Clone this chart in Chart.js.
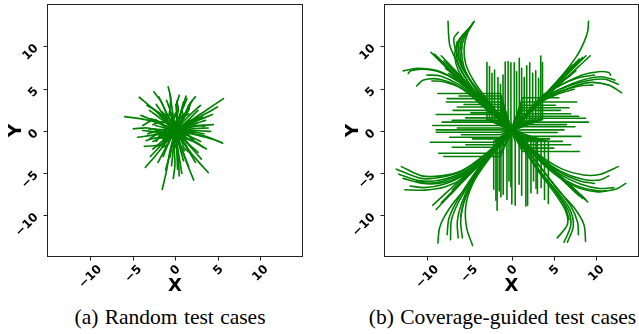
<!DOCTYPE html>
<html><head><meta charset="utf-8">
<script src="https://cdn.jsdelivr.net/npm/chart.js@4"></script>
<style>
html,body{margin:0;padding:0;background:#fff;width:639px;height:334px;overflow:hidden;position:relative}
.cv{position:absolute;top:0;height:300px}
.cap{position:absolute;top:305.5px;font-family:"Liberation Serif","Times New Roman",serif;font-size:21.5px;line-height:22px;white-space:nowrap;color:#000;transform:translateX(-50%);word-spacing:1px}
</style></head><body>
<div class="cv" style="left:0;width:310px"><canvas id="c1"></canvas></div>
<div class="cv" style="left:320px;width:319px"><canvas id="c2"></canvas></div>
<div class="cap" style="left:170px">(a) Random test cases</div>
<div class="cap" style="left:502.5px">(b) Coverage-guided test cases</div>
<script>
// ---- axis data ----
const tickValues = [-10, -5, 0, 5, 10];
const tickLabels = ['\u221210', '\u22125', '0', '5', '10'];
const axisMin = -15, axisMax = 15;
const xTitle = 'X', yTitle = 'Y';

// ---- panel (a): random test cases, flat [x0,y0,x1,y1,...] paths ----
const leftW = [
 [0,0,-1.2,0.6,-3,1.2,-5.9,1.66],[0,0,-1.5,-0.1,-3.2,0.3,-4.9,0.2],[0,0,-1.1,1.2,-2.6,2.6,-4.2,3.96],
 [0.2,0.1,-1.2,0.5,-2.4,1.3,-3.8,0.6],[0,-0.2,-1.4,-0.4,-2.2,-0.1,-3.2,-0.4],[0,0,-1.0,0.9,-2.0,1.1,-2.8,1.4],
 [0,0,-1.3,-0.8,-2.4,-0.9,-3.4,-1.2],[0,0,-1.5,-1.6,-3.6,-1.9],[0,0,-0.9,-0.3,-2.0,-1.0,-2.6,-1.3],
 [0,0.1,-1.4,0.1,-3.1,0.2],[0,0,-1.2,0.3,-2.3,0.6],[0,0,-1.4,1.2,-3.0,2.4],[0,0,-2.2,-0.5,-4.4,-0.8],
 [0,0,-1.8,0.9,-4.0,1.8],[0,0,-1.3,-0.3,-2.5,-0.5],[0,0,-1.6,1.9,-3.3,3.0],[0,0,-1.2,-0.6,-2.0,-0.4,-3.0,-1.0],
 [0,0,-1.6,-0.2,-3.8,0.0]
];
const leftN = [
 [0,0,-1.0,2.0,-1.6,3.4,-2.5,4.6],[0,0,-0.6,2.4,-0.5,3.8,-0.8,5.2],[0,0,0.3,2.0,0.2,3.1,0.5,4.2],
 [0,0,0.6,1.9,1.0,2.8,1.4,3.8],[0,0,1.1,1.6,1.6,3.0,2.4,4.0],[0,0,-1.3,1.8,-2.2,3.1],[0,0,-1.0,1.1,-1.8,1.8],
 [0,0,-0.4,1.9,-1.0,3.6],[0,0,-0.3,2.3,-0.6,4.3],[0,0,0.2,1.6,0.1,3.1],[0,0,0.6,1.8,1.0,3.4],
 [0,0,0.9,1.3,1.7,2.6],[0,0,1.1,1.9,2.0,3.5],[0,0,-1.2,1.3],[0,0,0.4,1.0,0.6,1.8],[0,0,0.7,2.2,1.3,4.1],
 [0,0,-1.0,2.1,-1.9,4.0],[0,0,1.6,1.7,3.0,3.0],[0,0,-0.2,1.2,0.4,2.4,0.2,3.5],[0,0,0.5,1.5,1.4,2.2,1.8,3.1]
];
const leftE = [
 [0,0,1.6,1.0,3.5,2.3,5.7,3.8],[0,0,1.4,0.9,3.2,1.8,5.0,2.8],[0,0,1.4,0.3,3.0,0.6,4.5,0.7],
 [0,0,1.6,-0.3,3.6,-0.7,5.6,-1.5],[0,0,1.2,0.9,2.7,2.4],[0,0,1.5,0.9,3.3,1.6],[0,0,1.9,0.7,3.6,1.2],
 [0,0,2.0,0.2,3.9,0.3],[0,0,1.7,-0.1,3.4,-0.4],[0,0,2.1,0.0,4.2,-0.1],[0,0,1.5,-0.6,3.0,-1.3],
 [0,0,1.3,-0.4,2.2,-1.1],[0,0,1.0,0.7,1.9,1.2],[0,0,2.2,1.0,4.4,1.9],[0,0,2.0,-0.4,4.3,-1.0],
 [0,0,1.3,0.5,2.6,0.9],[0,0,1.2,0.2,2.4,0.6,3.5,0.5],[0,0,1.1,-0.9,2.5,-1.4,3.3,-2.0]
];
const leftS = [
 [0,0,1.1,-1.6,2.3,-3.2,3.9,-5.0],[0,0,0.7,-1.9,1.4,-3.9,2.2,-5.9],[0,0,0.2,-1.8,0.4,-3.7,0.5,-5.4],
 [0,0,-0.1,-2.1,0.0,-4.0,-0.2,-5.7],[0,0,-0.6,-2.5,-1.0,-4.8,-1.5,-7.0],[0,0,-1.1,-1.5,-2.3,-3.0,-3.5,-4.4],
 [0,0,1.8,-1.1,3.7,-2.2],[0,0,1.4,-1.4,2.7,-2.6],[0,0,1.3,-1.9,2.4,-3.8],[0,0,0.8,-2.2,1.6,-4.3],
 [0,0,0.5,-1.8,1.0,-3.6],[0,0,0.4,-2.6,0.8,-5.1],[0,0,-0.2,-2.1,-0.4,-4.2],[0,0,-0.3,-1.6,-0.6,-3.2],
 [0,0,-0.5,-2.4,-1.1,-4.7],[0,0,-0.8,-1.6,-1.4,-3.1],[0,0,-1.0,-1.9,-2.0,-3.8],[0,0,-0.8,-0.9,-1.6,-1.8],
 [0,0,0.7,-1.0,1.4,-1.9],[0,0,-0.1,-1.0,-0.3,-1.9],[0,0,-1.5,-1.6,-2.9,-3.1],[0,0,1.6,-1.7,3.1,-3.4],
 [0,0,0.2,-2.3,0.3,-4.6],[0,0,-1.3,-1.1,-2.6,-2.2]
];
const leftCore = [
 [0,0,0.6,0.5,1.2,0.2,1.8,0.8],[0,0,-0.5,0.7,-1.1,0.4,-1.6,1.0],[0,0,-0.7,-0.4,-1.2,-1.0,-1.9,-0.7],
 [0,0,0.4,-0.6,1.0,-0.9,1.5,-1.5],[0,0,0.2,0.8,-0.3,1.4,0.1,2.1],[0,0,-0.3,-0.8,0.2,-1.4,-0.1,-2.2],
 [0,0,0.9,0.1,1.5,-0.3,2.3,-0.2],[0,0,-0.9,0.1,-1.6,-0.2,-2.4,0.2],[0,0,0.7,0.9,1.0,1.6,1.6,2.0],
 [0,0,-0.6,-0.9,-0.8,-1.6,-1.4,-2.0],[0,0,0.5,-1.0,0.6,-1.8,1.1,-2.4],[0,0,-0.8,0.9,-1.0,1.7,-1.5,2.2],
 [0,0,1.1,0.4,1.7,1.0,2.5,1.2],[0,0,-1.0,-0.3,-1.8,-0.6,-2.2,-1.3],[0,0,0.3,0.3,0.9,0.2,1.2,0.7],
 [0,0,-0.4,0.2,-0.8,-0.3,-1.3,-0.1],[0,0,1.0,-0.6,1.6,-0.5,2.0,-1.2],[0,0,-0.2,1.0,-0.7,1.5,-0.6,2.5],
 [0,0,0.8,-1.3,1.0,-2.0,1.7,-2.6],[0,0,-1.1,-0.9,-1.4,-1.6,-2.2,-1.9],[0,0,0.3,1.2,0.9,1.6,0.8,2.6],
 [0,0,-1.2,0.5,-2.0,0.9,-2.6,0.7],[0,0,0.5,0.2,1.0,-0.4,1.4,0.1],[0,0,-0.3,0.5,-0.9,0.8,-1.0,1.4],
 [0,0,-0.6,-0.2,-1.0,0.3,-1.5,-0.3],[0,0,0.2,-0.5,0.7,-0.6,0.9,-1.2]
];

// ---- panel (b): coverage-guided test cases ----
// horizontal runs: [y, xEnd]
const rightHorizL = [[4.4,-8.7],[4.1,-6.2],[3.8,-7.6],[3.4,-7.7],[3.1,-5.6],[2.8,-6.4],[2.4,-6.9],[2.1,-4.8],
 [1.9,-8.9],[1.5,-5.4],[1.2,-7.0],[1.0,-8.2],[0.6,-9.3],[0.3,-6.4],[0.07,-8.9],[-0.2,-8.9],[-0.5,-5.9],
 [-0.8,-7.3],[-1.0,-4.6],[-1.4,-9.6],[-1.7,-5.4],[-2.0,-7.0],[-2.7,-8.6],[-3.1,-8.0]];
const rightHorizR = [[3.9,5.6],[3.4,7.7],[3.0,5.2],[2.7,6.8],[2.4,5.8],[2.0,7.0],[1.7,7.95],[1.45,8.75],
 [1.0,9.1],[0.7,6.5],[0.44,7.5],[0.07,6.2],[-0.24,5.4],[-0.7,8.2],[-1.0,4.5],[-1.3,6.0],[-1.7,7.0],
 [-2.1,5.0],[-2.5,8.0]];
// vertical runs: [x, yEnd]
const rightVertUp = [[-2.9,8.1],[-2.6,7.6],[-2.3,6.8],[-2.0,7.2],[-1.6,6.3],[-1.3,5.5],[-1.0,6.6],[-0.74,8.15],
 [-0.4,8.2],[-0.07,8.07],[0.33,8.07],[0.6,7.0],[0.92,8.6],[1.2,7.4],[1.5,6.3],[1.8,7.7],[2.15,8.07],
 [2.5,6.8],[2.86,7.1],[3.2,6.2],[3.46,8.86],[3.66,8.1]];
const rightVertDown = [[-2.1,-7.0],[-1.84,-8.3],[-1.7,-9.5],[-1.45,-7.2],[-1.25,-7.9],[-0.98,-7.6],[-0.54,-8.2],
 [-0.3,-6.0],[-0.07,-6.7],[0.04,-8.75],[0.44,-8.9],[0.9,-6.4],[1.2,-7.7],[1.7,-9.0],[1.9,-8.9],[2.3,-7.4],
 [2.6,-6.0],[2.9,-6.9],[3.06,-7.5],[3.5,-6.8],[3.9,-8.2],[4.35,-8.7]];
// fan paths: flat [x0,y0,x1,y1,...]
const rightNW = [
 [0,0,-3.6,3.5,-5.2,5.9,-6.5,8.3,-7.3,10.2,-7.5,13.0],[0,0,-3.4,3.8,-5.6,7.2,-6.6,9.6,-6.8,11.0,-6.3,11.7],
 [0,0,-3.2,3.5,-4.6,5.5,-5.6,7.5,-5.9,9.5,-5.6,11.0,-4.4,13.0],[0,0,-3.1,3.6,-4.7,5.7,-5.8,7.6,-6.1,9.4,-5.8,11.0,-4.6,12.7],
 [0,0,-3.0,3.6,-4.8,5.9,-6.0,7.8,-6.3,9.5,-6.0,11.0,-4.8,12.4],[0,0,-3.3,3.4,-5.0,5.6,-6.2,7.6,-6.5,9.4,-6.2,10.8,-5.1,12.0],
 [0,0,-3.4,3.3,-5.2,5.5,-6.3,7.2,-6.7,9.0,-6.4,10.6],[0,0,-2.9,3.7,-4.4,5.8,-5.4,7.9,-5.6,9.8,-5.2,11.6,-4.5,12.9],
 [0,0,-4.6,4.4,-9.5,9.3],[0,0,-4.5,4.4,-9.1,9.1],[0,0,-4.4,4.2,-8.7,8.7],[0,0,-4.0,4.3,-8.3,8.9],
 [0,0,-4.0,4.0,-8.0,8.3],[0,0,-3.8,3.9,-7.7,8.1],[0,0,-3.6,3.6,-7.2,7.5],[0,0,-3.4,3.5,-6.8,7.3],
 [0,0,-3.9,3.6,-6.0,6.0,-7.8,7.4],[0,0,-3.7,3.5,-5.8,5.6,-7.4,6.8],
 [0,0,-4.0,3.9,-6.4,5.9,-8.7,7.1,-11.1,7.4,-12.8,7.1],[0,0,-3.8,3.7,-6.2,5.8,-8.6,7.0,-10.6,7.3,-11.9,7.1,-12.2,6.8],
 [0,0,-3.4,2.9,-6.0,5.1,-8.5,6.1,-10.4,6.0,-11.2,5.3],[0,0,-3.6,3.4,-6.1,5.4,-8.4,6.5,-10.0,6.6],
 [0,0,-3.7,3.3,-5.9,5.0,-8.0,5.8,-9.4,5.9]
];
const rightNE = [
 [0,0,3.0,3.2,5.6,6.1,7.6,8.7,8.55,10.5,9.0,11.8,9.1,13.0],[0,0,4.6,4.5,9.3,8.9],[0,0,4.4,4.5,8.8,8.9],
 [0,0,4.2,4.3,8.4,8.7],[0,0,4.0,4.2,8.0,8.5],[0,0,3.8,4.0,7.6,8.1],[0,0,3.6,3.8,7.2,7.8],[0,0,3.4,3.7,6.8,7.4],
 [0,0,3.7,3.6,5.8,5.7,7.6,7.1],[0,0,3.5,3.5,5.6,5.5,7.0,6.6],
 [0,0,3.6,4.1,5.6,5.3,8.35,6.6,10.3,7.0,11.5,6.9,11.7,6.6],[0,0,3.6,3.8,6.0,5.0,8.8,5.9,11.0,6.1,12.6,5.5],
 [0,0,3.4,3.4,6.2,4.8,9.1,5.7,11.5,5.4,13.0,4.5],[0,0,3.5,3.6,5.9,5.0,8.4,6.0,10.6,6.4,12.2,6.0],
 [0,0,3.3,3.4,5.6,4.6,8.0,5.3,9.6,5.4],[0,0,3.5,3.9,5.8,5.4,8.0,6.3,9.8,6.6],[0,0,3.2,3.2,5.4,4.3,7.4,4.9]
];
const rightSW = [
 [0,0,-3.2,-2.9,-6.0,-4.9,-8.5,-5.6,-10.7,-5.7,-13.6,-4.6],[0,0,-3.2,-3.0,-5.9,-4.8,-8.3,-5.4,-10.6,-5.4,-13.0,-4.3],
 [0,0,-3.1,-3.1,-5.8,-5.0,-8.4,-5.9,-10.8,-6.0,-13.3,-5.2],[0,0,-3.0,-3.2,-5.6,-5.2,-8.0,-6.2,-10.4,-6.3,-12.8,-5.7],
 [0,0,-3.0,-3.3,-5.4,-5.5,-7.8,-6.7,-10.2,-7.1,-12.6,-7.05],[0,0,-3.1,-3.2,-5.6,-5.3,-8.0,-6.4,-10.3,-6.8,-12.0,-6.6],
 [0,0,-3.2,-3.1,-5.7,-5.1,-8.0,-6.0,-10.0,-6.3,-11.2,-6.0],
 [0,0,-4.4,-4.6,-8.9,-9.4],[0,0,-4.2,-4.4,-8.3,-8.6],[0,0,-3.9,-4.1,-7.7,-8.1],[0,0,-4.5,-4.4,-9.3,-8.9],[0,0,-3.6,-3.8,-7.2,-7.6],
 [0,0,-3.5,-3.4,-5.6,-5.6,-7.0,-7.1],
 [0,0,-2.8,-3.0,-5.2,-6.6,-6.7,-8.4,-7.9,-10.2,-8.5,-11.6,-8.7,-13.4],[0,0,-2.8,-3.1,-5.0,-6.4,-6.3,-8.6,-7.1,-10.7,-7.2,-13.0],
 [0,0,-2.7,-3.2,-4.8,-6.3,-5.9,-8.7,-6.4,-10.8,-6.3,-12.8],[0,0,-2.7,-3.3,-4.7,-6.4,-5.7,-8.8,-6.0,-10.9,-5.8,-12.8],
 [0,0,-2.8,-3.4,-4.6,-6.4,-5.4,-9.0,-5.3,-11.6,-4.6,-13.7],[0,0,-2.9,-3.1,-5.1,-6.2,-6.5,-8.5,-7.4,-10.5,-7.6,-12.4],
 [0,0,-2.6,-3.3,-4.6,-6.2,-5.6,-8.4,-6.0,-10.2]
];
const rightSE = [
 [0,0,3.4,-3.0,6.0,-4.6,8.5,-5.3,10.5,-5.2,12.6,-4.3],[0,0,3.0,-3.2,5.6,-5.4,8.0,-6.7,10.5,-7.2,12.3,-7.0,13.5,-6.3],
 [0,0,3.3,-3.1,5.9,-4.9,8.4,-5.8,10.4,-5.9,11.5,-5.4],[0,0,3.1,-3.2,5.7,-5.2,8.2,-6.4,10.4,-6.9,12.1,-6.8],
 [0,0,3.2,-3.1,5.8,-5.0,8.1,-6.0,9.8,-6.3],[0,0,3.0,-3.3,5.5,-5.5,7.8,-6.8,10.0,-7.3,11.2,-7.2],
 [0,0,4.4,-4.1,8.75,-8.2],[0,0,4.2,-4.1,8.4,-8.1],[0,0,4.0,-3.9,8.0,-7.8],[0,0,3.8,-3.7,7.7,-7.5],[0,0,4.5,-4.3,9.0,-8.5],
 [0,0,3.5,-3.5,5.7,-5.6,7.2,-7.0],
 [0,0,3.2,-4.9,5.2,-7.6,6.4,-9.6,6.6,-11.2,5.4,-12.8],[0,0,3.1,-4.6,5.3,-7.4,6.7,-9.5,7.0,-11.3,6.2,-13.3],
 [0,0,3.0,-4.4,5.4,-7.3,6.9,-9.4,7.3,-11.4,6.6,-13.3],[0,0,3.0,-3.8,5.6,-7.2,7.4,-9.2,8.55,-11.2,8.75,-13.2],
 [0,0,3.1,-4.0,5.5,-7.0,7.0,-9.0,7.8,-10.9,7.9,-12.4],[0,0,2.9,-4.2,5.0,-7.0,6.3,-9.0,6.8,-10.6]
];

const GREEN = '#008000';
function flatToPts(f){ const p=[]; for(let i=0;i<f.length;i+=2) p.push({x:f[i],y:f[i+1]}); return p; }
function horizToPts(h){ const s=Math.sign(h[1]); return [{x:0,y:0},{x:s*1.3,y:h[0]},{x:h[1],y:h[0]}]; }
function vertToPts(v){ const s=Math.sign(v[1]); return [{x:0,y:0},{x:v[0],y:s*1.3},{x:v[0],y:v[1]}]; }
function ds(pts, w, t){ return {data:pts,showLine:true,borderColor:GREEN,borderWidth:w,pointRadius:0,tension:t,fill:false,borderCapStyle:'round',borderJoinStyle:'round'}; }

const framePlugin = {
  id:'frame',
  afterDraw(chart, args, o){
    const {ctx, chartArea:a, scales:{x,y}} = chart;
    ctx.save();
    ctx.strokeStyle='#222'; ctx.lineWidth=1;
    ctx.strokeRect(a.left, a.top, a.right-a.left, a.bottom-a.top);
    ctx.fillStyle='#000';
    ctx.font='bold 12px "DejaVu Sans"';
    const h = 12*1.164;
    tickValues.forEach((v,i)=>{
      const px = Math.round(x.getPixelForValue(v))+0.5;
      const py = Math.round(y.getPixelForValue(v))+0.5;
      ctx.beginPath(); ctx.moveTo(px,a.bottom); ctx.lineTo(px,a.bottom+4); ctx.stroke();
      ctx.beginPath(); ctx.moveTo(a.left-4,py); ctx.lineTo(a.left,py); ctx.stroke();
      const t = tickLabels[i];
      const w = ctx.measureText(t).width;
      const H = (w+h)*Math.SQRT1_2;
      ctx.save(); ctx.translate(px, a.bottom+6+H/2); ctx.rotate(-Math.PI/4);
      ctx.textAlign='center'; ctx.textBaseline='middle'; ctx.fillText(t,0,0); ctx.restore();
      ctx.save(); ctx.translate(a.left-11, py); ctx.rotate(-Math.PI/4);
      ctx.textAlign='right'; ctx.textBaseline='middle'; ctx.fillText(t,0,0); ctx.restore();
    });
    ctx.font='bold 18px "DejaVu Sans"';
    ctx.textAlign='center'; ctx.textBaseline='middle';
    ctx.fillText(xTitle, (a.left+a.right)/2, 286);
    ctx.save(); ctx.translate(o.yTitleX, (a.top+a.bottom)/2); ctx.rotate(-Math.PI/2);
    ctx.fillText(yTitle,0,0); ctx.restore();
    ctx.restore();
  }
};

function makeChart(id, datasets, pad, yTitleX){
  return new Chart(document.getElementById(id), {
    type:'scatter',
    data:{datasets},
    options:{
      responsive:true, maintainAspectRatio:false, animation:false,
      layout:{padding:pad},
      plugins:{legend:{display:false}, tooltip:{enabled:false}, frame:{yTitleX}},
      scales:{
        x:{type:'linear', min:axisMin, max:axisMax, display:false},
        y:{type:'linear', min:axisMin, max:axisMax, display:false}
      }
    },
    plugins:[framePlugin]
  });
}

const leftSets = [...leftW, ...leftN, ...leftE, ...leftS, ...leftCore].map(f=>ds(flatToPts(f),1.7,0.3));
const rightSets = [
  ...rightHorizL.map(h=>ds(horizToPts(h),1.6,0)), ...rightHorizR.map(h=>ds(horizToPts(h),1.6,0)),
  ...rightVertUp.map(v=>ds(vertToPts(v),1.6,0)), ...rightVertDown.map(v=>ds(vertToPts(v),1.6,0)),
  ...[...rightNW, ...rightNE, ...rightSW, ...rightSE].map(f=>ds(flatToPts(f),1.6,0.3))
];
makeChart('c1', leftSets, {left:47.5, right:7.5, top:4.5, bottom:43.5}, 16);
makeChart('c2', rightSets, {left:64.5, right:0.5, top:4.5, bottom:43.5}, 33);
</script>
</body></html>
